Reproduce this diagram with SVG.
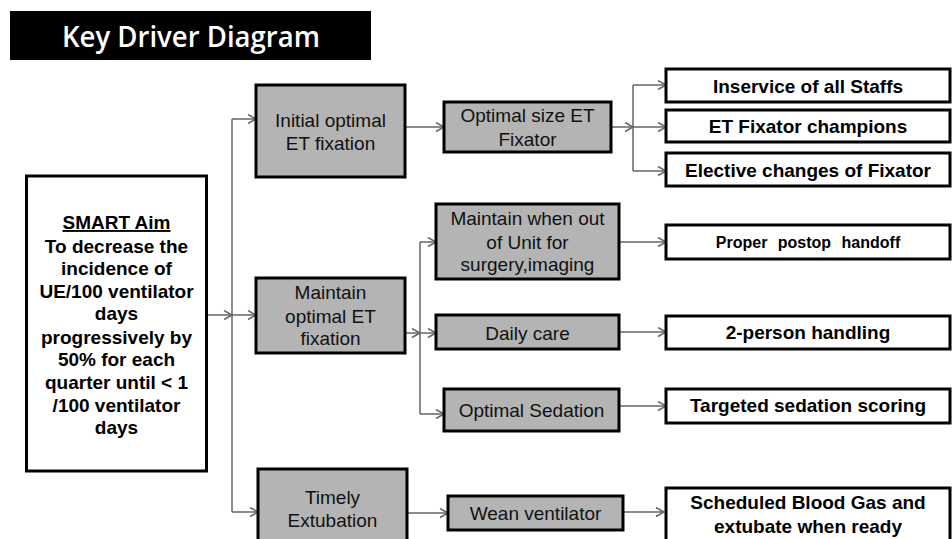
<svg xmlns="http://www.w3.org/2000/svg" width="952" height="539" viewBox="0 0 952 539">
<defs>
<marker id="arr" markerUnits="userSpaceOnUse" markerWidth="12" markerHeight="12" refX="9" refY="5" orient="auto">
<path d="M1,0.5 L9,5 L1,9.5" fill="none" stroke="#666" stroke-width="1.5"/>
</marker>
<style>
.g{fill:#b4b4b4;stroke:#000;stroke-width:3}
.w{fill:#fff;stroke:#000;stroke-width:3}
.t{font-family:"Liberation Sans",Arial,sans-serif;font-size:19px;fill:#111;text-anchor:middle}
.b{font-family:"Liberation Sans",Arial,sans-serif;font-size:19px;font-weight:bold;fill:#000;text-anchor:middle}
.s{font-size:16px;word-spacing:6px}
.c line,.c path{stroke:#666;stroke-width:1.5;fill:none}
.c .a{marker-end:url(#arr)}
</style>
</defs>
<rect width="952" height="539" fill="#fff"/>
<g id="title">
<rect x="10" y="11" width="361" height="49" fill="#000"/>
<text x="191" y="47" font-family="'Open Sans','Noto Sans',sans-serif" font-size="28" font-weight="600" fill="#fff" text-anchor="middle" textLength="258" lengthAdjust="spacingAndGlyphs">Key Driver Diagram</text>
</g>
<g class="c" id="connectors">
<line class="a" x1="207" y1="315" x2="232" y2="315"/>
<line x1="232" y1="119" x2="232" y2="512"/>
<line class="a" x1="232" y1="119" x2="256" y2="119"/>
<line class="a" x1="232" y1="315" x2="256" y2="315"/>
<line class="a" x1="232" y1="512" x2="258" y2="512"/>
<line class="a" x1="405" y1="127" x2="444" y2="127"/>
<line class="a" x1="611" y1="127" x2="633" y2="127"/>
<line x1="633" y1="85" x2="633" y2="171"/>
<line class="a" x1="633" y1="85" x2="666" y2="85"/>
<line class="a" x1="633" y1="127" x2="666" y2="127"/>
<line class="a" x1="633" y1="171" x2="666" y2="171"/>
<line class="a" x1="405" y1="333" x2="420" y2="333"/>
<line x1="420" y1="242" x2="420" y2="414"/>
<line class="a" x1="420" y1="242" x2="436" y2="242"/>
<line class="a" x1="420" y1="333" x2="436" y2="333"/>
<line class="a" x1="420" y1="414" x2="444" y2="414"/>
<line class="a" x1="619" y1="242" x2="666" y2="242"/>
<line class="a" x1="619" y1="332" x2="666" y2="332"/>
<line class="a" x1="619" y1="406" x2="666" y2="406"/>
<line class="a" x1="407" y1="513" x2="448" y2="513"/>
<line class="a" x1="623" y1="512" x2="664" y2="512"/>
</g>
<g id="smart">
<rect class="w" x="26.5" y="176" width="180" height="295"/>
<text class="b" x="116.5" y="229" text-decoration="underline">SMART Aim</text>
<text class="b" x="116.5" y="253">To decrease the</text>
<text class="b" x="116.5" y="275">incidence of</text>
<text class="b" x="116.5" y="298">UE/100 ventilator</text>
<text class="b" x="116.5" y="320">days</text>
<text class="b" x="116.5" y="344">progressively by</text>
<text class="b" x="116.5" y="366">50% for each</text>
<text class="b" x="116.5" y="389">quarter until &lt; 1</text>
<text class="b" x="116.5" y="412">/100 ventilator</text>
<text class="b" x="116.5" y="434">days</text>
</g>
<g id="initial">
<rect class="g" x="256" y="85" width="149" height="92"/>
<text class="t" x="330.5" y="127">Initial optimal</text>
<text class="t" x="330.5" y="150">ET fixation</text>
</g>
<g id="maintain">
<rect class="g" x="256" y="278" width="149" height="75"/>
<text class="t" x="330.5" y="299">Maintain</text>
<text class="t" x="330.5" y="323">optimal ET</text>
<text class="t" x="330.5" y="345">fixation</text>
</g>
<g id="timely">
<rect class="g" x="258" y="469" width="149" height="80"/>
<text class="t" x="332.5" y="504">Timely</text>
<text class="t" x="332.5" y="527">Extubation</text>
</g>
<g id="optsize">
<rect class="g" x="444" y="102" width="167" height="50"/>
<text class="t" x="527.5" y="122">Optimal size ET</text>
<text class="t" x="527.5" y="146">Fixator</text>
</g>
<g id="outofunit">
<rect class="g" x="436" y="204" width="183" height="75"/>
<text class="t" x="527.5" y="225">Maintain when out</text>
<text class="t" x="527.5" y="249">of Unit for</text>
<text class="t" x="527.5" y="271">surgery,imaging</text>
</g>
<g id="daily">
<rect class="g" x="436" y="315" width="183" height="34"/>
<text class="t" x="527.5" y="340">Daily care</text>
</g>
<g id="sedation">
<rect class="g" x="444" y="389" width="175" height="42"/>
<text class="t" x="531.5" y="417">Optimal Sedation</text>
</g>
<g id="wean">
<rect class="g" x="448" y="496" width="175" height="34"/>
<text class="t" x="535.5" y="520">Wean ventilator</text>
</g>
<g id="inservice">
<rect class="w" x="666" y="69" width="284" height="33"/>
<text class="b" x="808" y="93">Inservice of all Staffs</text>
</g>
<g id="champions">
<rect class="w" x="666" y="110" width="284" height="32"/>
<text class="b" x="808" y="133">ET Fixator champions</text>
</g>
<g id="elective">
<rect class="w" x="666" y="153" width="284" height="33"/>
<text class="b" x="808" y="177">Elective changes of Fixator</text>
</g>
<g id="postop">
<rect class="w" x="666" y="225" width="284" height="34"/>
<text class="b s" x="808" y="248">Proper postop handoff</text>
</g>
<g id="twoperson">
<rect class="w" x="666" y="316" width="284" height="33"/>
<text class="b" x="808" y="339">2-person handling</text>
</g>
<g id="targeted">
<rect class="w" x="666" y="389" width="284" height="34"/>
<text class="b" x="808" y="412">Targeted sedation scoring</text>
</g>
<g id="scheduled">
<rect class="w" x="666" y="488" width="284" height="60"/>
<text class="b" x="808" y="509">Scheduled Blood Gas and</text>
<text class="b" x="808" y="533">extubate when ready</text>
</g>
</svg>
